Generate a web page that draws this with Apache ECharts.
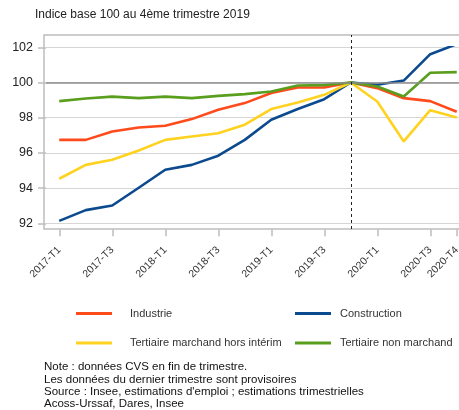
<!DOCTYPE html>
<html>
<head>
<meta charset="utf-8">
<script src="https://cdn.jsdelivr.net/npm/echarts@6/dist/echarts.min.js"></script>
<style>
  html, body { margin: 0; padding: 0; background: #ffffff; }
  #main { width: 459px; height: 410px; }
</style>
</head>
<body>
<div id="main"></div>
<script>
// trimestres
const categories = ['2017-T1','2017-T2','2017-T3','2017-T4','2018-T1','2018-T2','2018-T3','2018-T4',
  '2019-T1','2019-T2','2019-T3','2019-T4','2020-T1','2020-T2','2020-T3','2020-T4'];
const industrie = [96.74, 96.74, 97.22, 97.44, 97.54, 97.92, 98.45, 98.83, 99.40, 99.72, 99.72, 100, 99.68, 99.11, 98.94, 98.34];
const construction = [92.14, 92.75, 93.01, 94.02, 95.04, 95.32, 95.84, 96.74, 97.88, 98.49, 99.05, 100, 99.87, 100.11, 101.61, 102.18];
const tertMarchand = [94.53, 95.32, 95.61, 96.14, 96.74, 96.93, 97.12, 97.60, 98.49, 98.86, 99.30, 100, 98.92, 96.65, 98.43, 98.01];
const tertNonMarchand = [98.94, 99.09, 99.20, 99.11, 99.20, 99.11, 99.24, 99.34, 99.49, 99.83, 99.85, 100, 99.77, 99.20, 100.55, 100.59];
const yTicks = [92, 94, 96, 98, 100, 102];
const baseQuarter = '2019-T4';
const notes = [
  'Note : données CVS en fin de trimestre.',
  'Les données du dernier trimestre sont provisoires',
  "Source : Insee, estimations d'emploi ; estimations trimestrielles",
  'Acoss-Urssaf, Dares, Insee'
];

const chart = echarts.init(document.getElementById('main'));
const font = 'Liberation Sans, Arial, sans-serif';

const mkLine = (name, data, color, extra) => Object.assign({
  name: name,
  type: 'line',
  data: data,
  symbol: 'none',
  lineStyle: { width: 2.6, color: color },
  itemStyle: { color: color }
}, extra || {});

// afficher un libellé sur deux + le dernier
const showLabel = (i) => i % 2 === 0 || i === categories.length - 1;

const option = {
  backgroundColor: '#ffffff',
  animation: false,
  textStyle: { fontFamily: font },
  grid: [
    // grille principale (92 -> 102)
    { left: 46, right: -11, top: 47.3, bottom: 410 - 223.3, outerBoundsMode: 'none' },
    // cadre complet, pour la ligne verticale pointillée
    { left: 46, right: -11, top: 35, bottom: 410 - 229, outerBoundsMode: 'none' }
  ],
  graphic: [
    {
      type: 'rect',
      shape: { x: 44, y: 35, width: 440, height: 194 },
      style: { fill: 'none', stroke: '#bdbdbd', lineWidth: 1.5 },
      z: 0
    },
    {
      type: 'text', left: 35, top: 9,
      style: { text: 'Indice base 100 au 4ème trimestre 2019', fill: '#222', font: '12px ' + font }
    },
    {
      type: 'text', left: 44, top: 361,
      style: { text: notes.join('\n'), fill: '#111', font: '11.5px ' + font, lineHeight: 12.3 }
    }
  ],
  legend: [
    {
      data: ['Industrie', 'Tertiaire marchand hors intérim'],
      orient: 'vertical', left: 71, top: 303,
      icon: 'rect', itemWidth: 36, itemHeight: 3, itemGap: 18.4,
      textStyle: { fontSize: 11, color: '#333', padding: [0, 0, 0, 13] }
    },
    {
      data: ['Construction', 'Tertiaire non marchand'],
      orient: 'vertical', left: 290, top: 303,
      icon: 'rect', itemWidth: 36, itemHeight: 3, itemGap: 18.4,
      textStyle: { fontSize: 11, color: '#333', padding: [0, 0, 0, 4] }
    }
  ],
  xAxis: [
    {
      type: 'category',
      data: categories,
      boundaryGap: true,
      offset: 6,
      axisLine: { show: false },
      axisTick: { show: true, alignWithLabel: true, length: 7, interval: (i) => showLabel(i),
        lineStyle: { color: '#bdbdbd', width: 1.5 } },
      axisLabel: { interval: (i) => showLabel(i), rotate: 45, margin: 19, fontSize: 10.5, color: '#333' },
      splitLine: { show: false }
    },
    {
      type: 'category', gridIndex: 1, data: categories, boundaryGap: true, show: false
    }
  ],
  yAxis: [
    {
      type: 'value',
      min: yTicks[0],
      max: yTicks[yTicks.length - 1],
      interval: 2,
      axisLine: { show: false },
      axisTick: { show: true, length: 8, lineStyle: { color: '#bdbdbd', width: 1.5 } },
      axisLabel: { fontSize: 12.5, color: '#222', margin: 13 },
      splitLine: { lineStyle: { color: '#d6d6d6', width: 1.2 } }
    },
    { type: 'value', gridIndex: 1, min: 0, max: 1, show: false, splitLine: { show: false } }
  ],
  series: [
    mkLine('Industrie', industrie, '#ff4a1c', {
      markLine: {
        silent: true, symbol: 'none', animation: false,
        label: { show: false },
        data: [{ yAxis: 100, lineStyle: { color: '#8c8c8c', type: 'solid', width: 1.5 } }]
      }
    }),
    mkLine('Construction', construction, '#0b4a8f'),
    mkLine('Tertiaire marchand hors intérim', tertMarchand, '#ffd21f'),
    mkLine('Tertiaire non marchand', tertNonMarchand, '#5a9e1e'),
    {
      name: 'repere', type: 'line', xAxisIndex: 1, yAxisIndex: 1, data: [], z: 1,
      markLine: {
        silent: true, symbol: 'none', animation: false, label: { show: false },
        lineStyle: { color: '#222', type: [3, 3], width: 1 },
        data: [{ xAxis: baseQuarter }]
      }
    }
  ]
};

chart.setOption(option);
</script>
</body>
</html>
